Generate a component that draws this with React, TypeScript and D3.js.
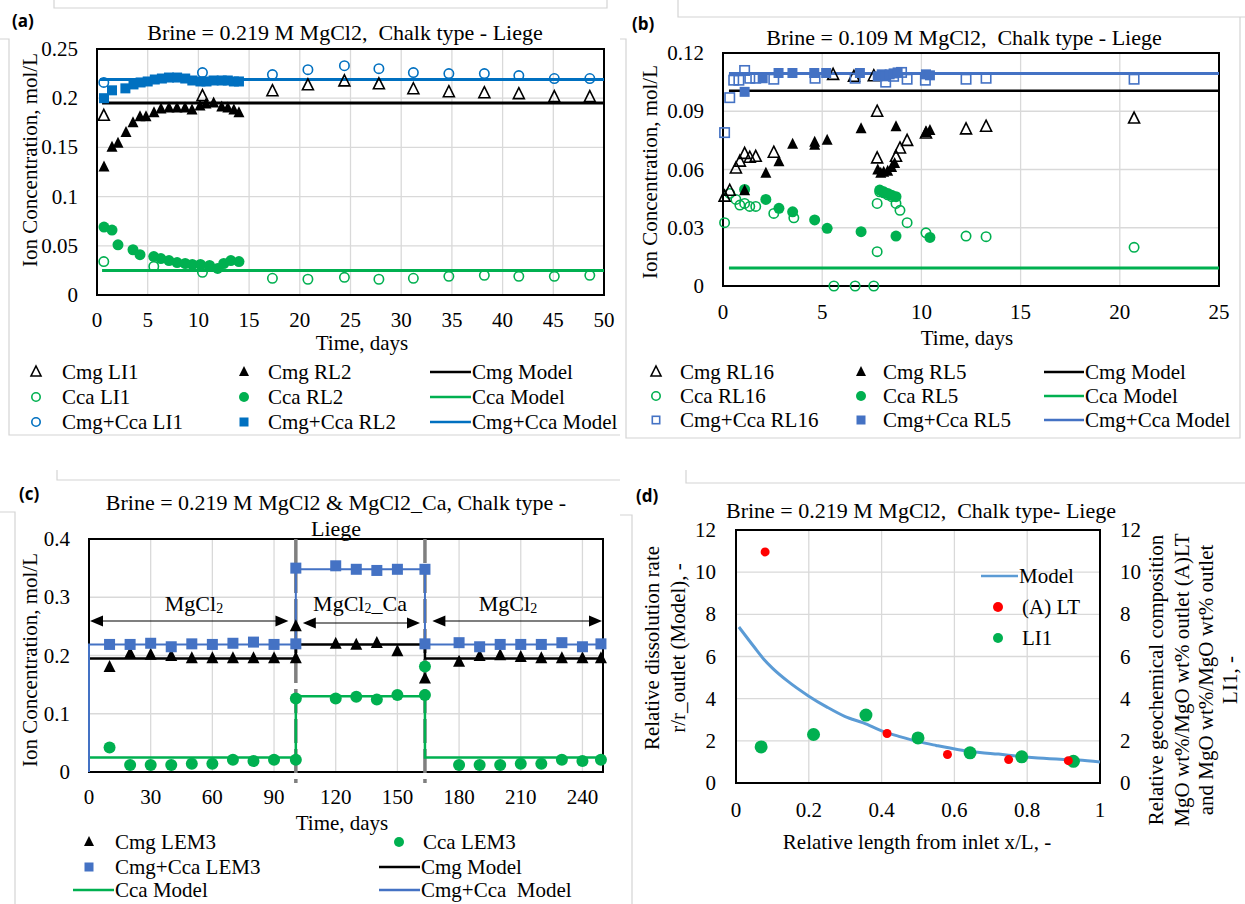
import React from "react";
import * as d3 from "d3";

const FONT = "'Liberation Serif', 'Times New Roman', serif";
const GRID = "#D9D9D9";
const BOXLINE = "#D4D4D4";
const BLUE_A = "#0070C0";
const BLUE = "#4472C4";
const GREEN = "#00B050";
const RED = "#FF0000";
const MODEL_D = "#5B9BD5";

type P = [number, number];

// ---------- panel (a): 0.219 M MgCl2, Liege ----------
const aXTicks = [0, 5, 10, 15, 20, 25, 30, 35, 40, 45, 50];
const aYTicks = [0, 0.05, 0.1, 0.15, 0.2, 0.25];
const aCmgLI1: P[] = [[0.67, 0.182], [10.4, 0.202], [17.3, 0.207], [20.8, 0.213], [24.4, 0.217], [27.8, 0.214], [31.2, 0.209], [34.7, 0.206], [38.2, 0.205], [41.6, 0.204], [45.1, 0.201], [48.6, 0.201]];
const aCcaLI1: P[] = [[0.67, 0.034], [5.6, 0.029], [10.4, 0.023], [17.3, 0.017], [20.8, 0.016], [24.4, 0.018], [27.8, 0.016], [31.2, 0.017], [34.7, 0.019], [38.2, 0.02], [41.6, 0.019], [45.1, 0.019], [48.6, 0.02]];
const aSumLI1: P[] = [[0.67, 0.216], [10.4, 0.226], [17.3, 0.224], [20.8, 0.229], [24.4, 0.233], [27.8, 0.23], [31.2, 0.226], [34.7, 0.225], [38.2, 0.225], [41.6, 0.223], [45.1, 0.22], [48.6, 0.22]];
const aCmgRL2: P[] = [[0.69, 0.13], [1.48, 0.15], [2.07, 0.154], [2.86, 0.165], [3.55, 0.175], [4.24, 0.181], [4.83, 0.181], [5.62, 0.185], [6.31, 0.189], [7.1, 0.19], [7.89, 0.19], [8.68, 0.19], [9.37, 0.188], [10.16, 0.192], [10.75, 0.194], [11.5, 0.195], [12.3, 0.191], [12.9, 0.19], [13.5, 0.188], [14.0, 0.185]];
const aCcaRL2: P[] = [[0.69, 0.069], [1.48, 0.066], [2.07, 0.051], [3.55, 0.046], [4.24, 0.041], [5.6, 0.039], [6.3, 0.037], [7.1, 0.035], [7.9, 0.033], [8.7, 0.032], [9.4, 0.031], [10.2, 0.031], [11.1, 0.03], [11.9, 0.027], [12.5, 0.032], [13.2, 0.035], [14.0, 0.034]];
const aSumRL2: P[] = [[0.69, 0.2], [1.48, 0.208], [2.8, 0.21], [3.6, 0.214], [4.3, 0.216], [5.0, 0.217], [5.7, 0.219], [6.4, 0.22], [7.1, 0.221], [7.9, 0.221], [8.7, 0.22], [9.4, 0.218], [10.2, 0.217], [10.8, 0.217], [11.5, 0.218], [12.3, 0.218], [12.9, 0.218], [13.5, 0.217], [14.0, 0.217]];
const aCmgModel: P[] = [[0.5, 0.195], [50, 0.195]];
const aCcaModel: P[] = [[0.5, 0.025], [50, 0.025]];
const aSumModel: P[] = [[0.3, 0.219], [50, 0.219]];

// ---------- panel (b): 0.109 M MgCl2, Liege ----------
const bXTicks = [0, 5, 10, 15, 20, 25];
const bYTicks = [0, 0.03, 0.06, 0.09, 0.12];
const bCmgRL16: P[] = [[0.08, 0.046], [0.34, 0.049], [0.65, 0.0605], [0.85, 0.064], [1.09, 0.068], [1.35, 0.066], [1.65, 0.0665], [2.56, 0.0686], [5.55, 0.1087], [6.6, 0.1077], [7.6, 0.108], [7.77, 0.0897], [7.77, 0.0657], [8.72, 0.0665], [8.92, 0.0708], [9.28, 0.0747], [10.23, 0.0785], [12.25, 0.0806], [13.26, 0.082], [20.72, 0.0862]];
const bCmgRL5: P[] = [[1.09, 0.049], [2.16, 0.058], [2.82, 0.064], [3.51, 0.073], [4.62, 0.0725], [4.62, 0.074], [5.25, 0.075], [6.96, 0.081], [7.8, 0.0597], [7.95, 0.058], [8.1, 0.0585], [8.3, 0.059], [8.5, 0.061], [8.65, 0.063], [8.72, 0.082], [10.23, 0.079], [10.43, 0.08]];
const bCcaRL16: P[] = [[0.08, 0.0326], [0.34, 0.0477], [0.65, 0.0446], [0.85, 0.0417], [1.09, 0.0425], [1.35, 0.041], [1.65, 0.041], [2.56, 0.0374], [3.57, 0.0351], [5.59, 0], [6.66, 0], [7.6, 0], [7.77, 0.0177], [7.77, 0.0425], [7.9, 0.0485], [8.1, 0.048], [8.3, 0.047], [8.5, 0.046], [8.72, 0.0425], [8.92, 0.039], [9.28, 0.0326], [10.23, 0.0274], [12.25, 0.0257], [13.26, 0.0254], [20.72, 0.0199]];
const bCcaRL5: P[] = [[1.09, 0.0497], [2.16, 0.0446], [2.82, 0.04], [3.51, 0.0382], [4.62, 0.034], [5.25, 0.0297], [6.96, 0.028], [7.9, 0.0494], [8.1, 0.0485], [8.3, 0.0477], [8.5, 0.0468], [8.72, 0.046], [8.72, 0.0257], [10.43, 0.025]];
const bSumRL16: P[] = [[0.08, 0.079], [0.34, 0.097], [0.54, 0.106], [0.8, 0.106], [1.09, 0.111], [1.35, 0.107], [1.65, 0.107], [2.56, 0.1065], [4.64, 0.107], [6.66, 0.107], [8.2, 0.105], [8.6, 0.108], [9.0, 0.11], [9.28, 0.1065], [10.2, 0.106], [12.25, 0.1065], [13.26, 0.107], [20.72, 0.1065]];
const bSumRL5: P[] = [[1.09, 0.1], [2.0, 0.107], [2.8, 0.1097], [3.5, 0.1097], [4.6, 0.1097], [5.2, 0.1097], [6.9, 0.1097], [7.8, 0.108], [8.0, 0.109], [8.2, 0.108], [8.4, 0.109], [8.6, 0.1095], [8.8, 0.11], [10.23, 0.109], [10.43, 0.1085]];
const bCmgModel: P[] = [[0.3, 0.1005], [25, 0.1005]];
const bCcaModel: P[] = [[0.3, 0.0093], [25, 0.0093]];
const bSumModel: P[] = [[0.3, 0.1094], [25, 0.1094]];

// ---------- panel (c): MgCl2 / MgCl2_Ca / MgCl2, LEM3 ----------
const cXTicks = [0, 30, 60, 90, 120, 150, 180, 210, 240];
const cYTicks = [0, 0.1, 0.2, 0.3, 0.4];
const cSwitch = [100.6, 163.4];
const cCmgLEM3: P[] = [[10, 0.18], [20, 0.203], [30, 0.201], [40, 0.199], [50, 0.195], [60, 0.195], [70, 0.195], [80, 0.195], [90, 0.195], [100.6, 0.195], [100.6, 0.25], [120, 0.22], [130, 0.218], [140, 0.221], [150, 0.207], [163.4, 0.16], [180, 0.189], [190, 0.199], [200, 0.2], [210, 0.197], [220, 0.195], [230, 0.195], [240, 0.195], [249, 0.195]];
const cCcaLEM3: P[] = [[10, 0.042], [20, 0.012], [30, 0.012], [40, 0.012], [50, 0.014], [60, 0.014], [70, 0.021], [80, 0.019], [90, 0.021], [100.6, 0.021], [100.6, 0.126], [120, 0.126], [130, 0.129], [140, 0.1245], [150, 0.132], [163.4, 0.132], [163.4, 0.181], [180, 0.012], [190, 0.012], [200, 0.012], [210, 0.014], [220, 0.014], [230, 0.021], [240, 0.019], [249, 0.021]];
const cSumLEM3: P[] = [[10, 0.219], [20, 0.219], [30, 0.221], [40, 0.215], [50, 0.22], [60, 0.219], [70, 0.221], [80, 0.223], [90, 0.219], [100.6, 0.22], [100.6, 0.35], [120, 0.354], [130, 0.348], [140, 0.346], [150, 0.348], [163.4, 0.348], [163.4, 0.22], [180, 0.222], [190, 0.215], [200, 0.219], [210, 0.219], [220, 0.219], [230, 0.222], [240, 0.215], [249, 0.22]];
const cCmgModel: P[] = [[0, 0.195], [100.6, 0.195], [100.6, 0.219], [163.4, 0.219], [163.4, 0.195], [250, 0.195]];
const cCcaModel: P[] = [[0, 0.025], [100.6, 0.025], [100.6, 0.13], [163.4, 0.13], [163.4, 0.025], [250, 0.025]];
const cSumModel: P[] = [[0, 0], [0, 0.219], [100.6, 0.219], [100.6, 0.348], [163.4, 0.348], [163.4, 0.219], [250, 0.219]];

// ---------- panel (d): relative dissolution rate ----------
const dXTicks = [0, 0.2, 0.4, 0.6, 0.8, 1];
const dYTicks = [0, 2, 4, 6, 8, 10, 12];
const dModel: P[] = [[0.008, 7.4], [0.05, 6.45], [0.077, 5.86], [0.1, 5.45], [0.142, 4.83], [0.2, 4.12], [0.25, 3.6], [0.3, 3.15], [0.35, 2.85], [0.404, 2.45], [0.45, 2.2], [0.503, 1.95], [0.55, 1.78], [0.612, 1.58], [0.67, 1.45], [0.721, 1.37], [0.78, 1.26], [0.83, 1.19], [0.9, 1.12], [0.94, 1.09], [1.0, 1.0]];
const dLT: P[] = [[0.08, 10.96], [0.415, 2.35], [0.581, 1.35], [0.749, 1.11], [0.913, 1.06]];
const dLI1: P[] = [[0.069, 1.71], [0.213, 2.3], [0.357, 3.22], [0.5, 2.14], [0.643, 1.43], [0.785, 1.24], [0.927, 1.03]];

type Kind = "triO" | "triF" | "cirO" | "cirF" | "sqO" | "sqF";

function Marker({ kind, x, y, color, s = 10 }: { kind: Kind; x: number; y: number; color: string; s?: number }) {
  if (kind === "triO" || kind === "triF") {
    const d = `M${x},${y - s * 0.6}L${x + s / 2},${y + s * 0.4}L${x - s / 2},${y + s * 0.4}Z`;
    return kind === "triF"
      ? <path d={d} fill={color} />
      : <path d={d} fill="none" stroke={color} strokeWidth={1.6} />;
  }
  if (kind === "cirO" || kind === "cirF") {
    return kind === "cirF"
      ? <circle cx={x} cy={y} r={s / 2} fill={color} />
      : <circle cx={x} cy={y} r={s / 2 - 0.8} fill="none" stroke={color} strokeWidth={1.6} />;
  }
  return kind === "sqF"
    ? <rect x={x - s / 2} y={y - s / 2} width={s} height={s} fill={color} />
    : <rect x={x - s / 2 + 0.8} y={y - s / 2 + 0.8} width={s - 1.6} height={s - 1.6} fill="none" stroke={color} strokeWidth={1.6} />;
}

function Series({ data, xs, ys, kind, color, s }: { data: P[]; xs: any; ys: any; kind: Kind; color: string; s?: number }) {
  return (
    <g>
      {data.map((p, i) => <Marker key={i} kind={kind} x={xs(p[0])} y={ys(p[1])} color={color} s={s} />)}
    </g>
  );
}

function Line({ data, xs, ys, color, w = 2.5 }: { data: P[]; xs: any; ys: any; color: string; w?: number }) {
  const gen = d3.line<P>().x(d => xs(d[0])).y(d => ys(d[1]));
  return <path d={gen(data) || ""} fill="none" stroke={color} strokeWidth={w} />;
}

function Frame({ xs, ys, xTicks, yTicks, xLabY, yLabRight, right }: any) {
  const [l, r] = xs.range();
  const [b, t] = ys.range();
  return (
    <g>
      {xTicks.filter((v: number) => xs(v) > l + 1 && xs(v) < r - 1).map((v: number) => (
        <line key={"gx" + v} x1={xs(v)} x2={xs(v)} y1={t} y2={b} stroke={GRID} strokeWidth={1.3} />
      ))}
      {yTicks.filter((v: number) => ys(v) > t + 1 && ys(v) < b - 1).map((v: number) => (
        <line key={"gy" + v} x1={l} x2={r} y1={ys(v)} y2={ys(v)} stroke={GRID} strokeWidth={1.3} />
      ))}
      <rect x={l} y={t} width={r - l} height={b - t} fill="none" stroke="#000" strokeWidth={2} />
      {xTicks.map((v: number) => (
        <text key={"tx" + v} x={xs(v)} y={xLabY} textAnchor="middle" dominantBaseline="central">{String(v)}</text>
      ))}
      {yTicks.map((v: number) => (
        <text key={"ty" + v} x={yLabRight} y={ys(v)} textAnchor="end" dominantBaseline="central">{String(v)}</text>
      ))}
      {right != null && yTicks.map((v: number) => (
        <text key={"tr" + v} x={right} y={ys(v)} textAnchor="start" dominantBaseline="central">{String(v)}</text>
      ))}
    </g>
  );
}

function LegMark({ x, y, kind, color }: { x: number; y: number; kind: Kind; color: string }) {
  return <Marker kind={kind} x={x} y={y} color={color} s={kind.startsWith("sq") ? 9 : 10} />;
}

function LegLine({ x1, x2, y, color, label }: { x1: number; x2: number; y: number; color: string; label: string }) {
  return (
    <g>
      <line x1={x1} x2={x2} y1={y} y2={y} stroke={color} strokeWidth={2.5} />
      <text x={x2 + 1} y={y} dominantBaseline="central" style={{ whiteSpace: "pre" }}>{label}</text>
    </g>
  );
}

function LegItem({ mx, tx, y, kind, color, label }: { mx: number; tx: number; y: number; kind: Kind; color: string; label: string }) {
  return (
    <g>
      <LegMark x={mx} y={y} kind={kind} color={color} />
      <text x={tx} y={y} dominantBaseline="central">{label}</text>
    </g>
  );
}

function YTitle({ x, y, text }: { x: number; y: number; text: string }) {
  return (
    <text transform={`translate(${x},${y}) rotate(-90)`} textAnchor="middle" dominantBaseline="central">{text}</text>
  );
}

function Title({ x, y, text }: { x: number; y: number; text: string }) {
  return (
    <text x={x} y={y} textAnchor="middle" dominantBaseline="central" fontSize={22} style={{ whiteSpace: "pre" }}>{text}</text>
  );
}

function Arrow({ x1, x2, y }: { x1: number; x2: number; y: number }) {
  return (
    <g>
      <line x1={x1 + 4} x2={x2 - 4} y1={y} y2={y} stroke="#000" strokeWidth={1.2} />
      <path d={`M${x1},${y}L${x1 + 13},${y - 5.5}L${x1 + 13},${y + 5.5}Z`} fill="#000" />
      <path d={`M${x2},${y}L${x2 - 13},${y - 5.5}L${x2 - 13},${y + 5.5}Z`} fill="#000" />
    </g>
  );
}

function MgLabel({ x, y, suffix }: { x: number; y: number; suffix?: string }) {
  return (
    <text x={x} y={y} textAnchor="middle" dominantBaseline="central" fontSize={22}>
      MgCl<tspan fontSize={14} dy={5}>2</tspan>
      {suffix ? <tspan dy={-5}>{suffix}</tspan> : null}
    </text>
  );
}

export default function App() {
  // panel scales
  const axs = d3.scaleLinear().domain([0, 50]).range([97, 604]);
  const ays = d3.scaleLinear().domain([0, 0.25]).range([295, 49]);
  const bxs = d3.scaleLinear().domain([0, 25]).range([723, 1219]);
  const bys = d3.scaleLinear().domain([0, 0.12]).range([286, 53]);
  const cxs = d3.scaleLinear().domain([0, 250]).range([89, 603]);
  const cys = d3.scaleLinear().domain([0, 0.4]).range([772, 539]);
  const dxs = d3.scaleLinear().domain([0, 1]).range([736, 1100]);
  const dys = d3.scaleLinear().domain([0, 12]).range([783, 530]);

  const dModelGen = d3.line<P>().x(d => dxs(d[0])).y(d => dys(d[1])).curve(d3.curveMonotoneX);

  return (
    <div style={{ position: "absolute", left: 0, top: 0 }}>
      <svg width={1245} height={904} style={{ display: "block", background: "#fff" }} fontFamily={FONT} fontSize={21} fill="#000">
        <rect width={1245} height={904} fill="#fff" />

        {/* pasted-figure frame lines */}
        <g fill="none" stroke={BOXLINE} strokeWidth={1.2}>
          <path d="M54,0V8H607V0" />
          <path d="M0,39H9V435H620" />
          <path d="M678,0V17H1245" />
          <path d="M620,39H626V438H1240V17" />
          <path d="M57,470V480H620" />
          <path d="M0,512H15V904" />
          <path d="M686,470V483H1245" />
          <path d="M620,515H632V904" />
        </g>

        {/* panel labels */}
        <g fontFamily="'Open Sans', 'Liberation Sans', sans-serif" fontWeight="bold" fontSize={17}>
          <text x={12} y={20} dominantBaseline="central">(a)</text>
          <text x={632} y={23} dominantBaseline="central">(b)</text>
          <text x={19} y={493} dominantBaseline="central">(c)</text>
          <text x={636} y={495} dominantBaseline="central">(d)</text>
        </g>

        {/* ===== (a) ===== */}
        <Title x={345} y={32} text="Brine = 0.219 M MgCl2,  Chalk type - Liege" />
        <Frame xs={axs} ys={ays} xTicks={aXTicks} yTicks={aYTicks} xLabY={320} yLabRight={78} />
        <YTitle x={30} y={160} text="Ion Concentration, mol/L" />
        <text x={362} y={343} textAnchor="middle" dominantBaseline="central">Time, days</text>
        <Line data={aSumModel} xs={axs} ys={ays} color={BLUE_A} w={3} />
        <Line data={aCmgModel} xs={axs} ys={ays} color="#000" w={3} />
        <Line data={aCcaModel} xs={axs} ys={ays} color={GREEN} w={3} />
        <Series data={aCcaLI1} xs={axs} ys={ays} kind="cirO" color={GREEN} s={11} />
        <Series data={aSumLI1} xs={axs} ys={ays} kind="cirO" color={BLUE_A} s={11} />
        <Series data={aCmgLI1} xs={axs} ys={ays} kind="triO" color="#000" s={11} />
        <Series data={aCcaRL2} xs={axs} ys={ays} kind="cirF" color={GREEN} s={11} />
        <Series data={aSumRL2} xs={axs} ys={ays} kind="sqF" color={BLUE_A} s={10} />
        <Series data={aCmgRL2} xs={axs} ys={ays} kind="triF" color="#000" s={11} />
        <LegItem mx={36} tx={62} y={372} kind="triO" color="#000" label="Cmg LI1" />
        <LegItem mx={36} tx={62} y={397} kind="cirO" color={GREEN} label="Cca LI1" />
        <LegItem mx={36} tx={62} y={422} kind="cirO" color={BLUE_A} label="Cmg+Cca LI1" />
        <LegItem mx={244} tx={268} y={372} kind="triF" color="#000" label="Cmg RL2" />
        <LegItem mx={244} tx={268} y={397} kind="cirF" color={GREEN} label="Cca RL2" />
        <LegItem mx={244} tx={268} y={422} kind="sqF" color={BLUE_A} label="Cmg+Cca RL2" />
        <LegLine x1={430} x2={471} y={372} color="#000" label="Cmg Model" />
        <LegLine x1={430} x2={471} y={397} color={GREEN} label="Cca Model" />
        <LegLine x1={430} x2={471} y={422} color={BLUE_A} label="Cmg+Cca Model" />

        {/* ===== (b) ===== */}
        <Title x={964} y={37} text="Brine = 0.109 M MgCl2,  Chalk type - Liege" />
        <Frame xs={bxs} ys={bys} xTicks={bXTicks} yTicks={bYTicks} xLabY={312} yLabRight={704} />
        <YTitle x={650} y={172} text="Ion Concentration, mol/L" />
        <text x={967} y={338} textAnchor="middle" dominantBaseline="central">Time, days</text>
        <Line data={bSumModel} xs={bxs} ys={bys} color={BLUE} w={3} />
        <Line data={bCmgModel} xs={bxs} ys={bys} color="#000" w={2.5} />
        <Line data={bCcaModel} xs={bxs} ys={bys} color={GREEN} w={3} />
        <Series data={bCcaRL16} xs={bxs} ys={bys} kind="cirO" color={GREEN} s={11} />
        <Series data={bCcaRL5} xs={bxs} ys={bys} kind="cirF" color={GREEN} s={11} />
        <Series data={bCmgRL16} xs={bxs} ys={bys} kind="triO" color="#000" s={11} />
        <Series data={bCmgRL5} xs={bxs} ys={bys} kind="triF" color="#000" s={11} />
        <Series data={bSumRL16} xs={bxs} ys={bys} kind="sqO" color={BLUE} s={11} />
        <Series data={bSumRL5} xs={bxs} ys={bys} kind="sqF" color={BLUE} s={10} />
        <LegItem mx={656} tx={680} y={372} kind="triO" color="#000" label="Cmg RL16" />
        <LegItem mx={656} tx={680} y={396} kind="cirO" color={GREEN} label="Cca RL16" />
        <LegItem mx={656} tx={680} y={420} kind="sqO" color={BLUE} label="Cmg+Cca RL16" />
        <LegItem mx={861} tx={883} y={372} kind="triF" color="#000" label="Cmg RL5" />
        <LegItem mx={861} tx={883} y={396} kind="cirF" color={GREEN} label="Cca RL5" />
        <LegItem mx={861} tx={883} y={420} kind="sqF" color={BLUE} label="Cmg+Cca RL5" />
        <LegLine x1={1044} x2={1084} y={372} color="#000" label="Cmg Model" />
        <LegLine x1={1044} x2={1084} y={396} color={GREEN} label="Cca Model" />
        <LegLine x1={1044} x2={1084} y={420} color={BLUE} label="Cmg+Cca Model" />

        {/* ===== (c) ===== */}
        <Title x={336} y={502} text="Brine = 0.219 M MgCl2 & MgCl2_Ca, Chalk type -" />
        <Title x={336} y={528} text="Liege" />
        <Frame xs={cxs} ys={cys} xTicks={cXTicks} yTicks={cYTicks} xLabY={797} yLabRight={70} />
        <YTitle x={30} y={660} text="Ion Concentration, mol/L" />
        <text x={342} y={823} textAnchor="middle" dominantBaseline="central">Time, days</text>
        {cSwitch.map(v => (
          <line key={v} x1={cxs(v)} x2={cxs(v)} y1={cys(0.4)} y2={783} stroke="#7F7F7F" strokeWidth={3.5} strokeDasharray="24 6" />
        ))}
        <MgLabel x={194} y={603} />
        <Arrow x1={cxs(0) + 1} x2={cxs(97)} y={621} />
        <MgLabel x={360} y={603} suffix="_Ca" />
        <Arrow x1={cxs(104)} x2={cxs(161)} y={623} />
        <MgLabel x={508} y={603} />
        <Arrow x1={cxs(167)} x2={cxs(250) - 1} y={621} />
        <Line data={cCcaModel} xs={cxs} ys={cys} color={GREEN} w={2.5} />
        <Line data={cCmgModel} xs={cxs} ys={cys} color="#000" w={2.5} />
        <Line data={cSumModel} xs={cxs} ys={cys} color={BLUE} w={2} />
        <Series data={cCmgLEM3} xs={cxs} ys={cys} kind="triF" color="#000" s={12} />
        <Series data={cSumLEM3} xs={cxs} ys={cys} kind="sqF" color={BLUE} s={11} />
        <Series data={cCcaLEM3} xs={cxs} ys={cys} kind="cirF" color={GREEN} s={12} />
        <LegItem mx={89} tx={115} y={842} kind="triF" color="#000" label="Cmg LEM3" />
        <LegItem mx={399} tx={423} y={842} kind="cirF" color={GREEN} label="Cca LEM3" />
        <LegItem mx={89} tx={115} y={867} kind="sqF" color={BLUE} label="Cmg+Cca LEM3" />
        <LegLine x1={379} x2={420} y={867} color="#000" label="Cmg Model" />
        <LegLine x1={73} x2={114} y={890} color={GREEN} label="Cca Model" />
        <LegLine x1={379} x2={420} y={890} color={BLUE} label="Cmg+Cca  Model" />

        {/* ===== (d) ===== */}
        <Title x={921} y={510} text="Brine = 0.219 M MgCl2,  Chalk type- Liege" />
        <Frame xs={dxs} ys={dys} xTicks={dXTicks} yTicks={dYTicks} xLabY={810} yLabRight={716} right={1120} />
        <YTitle x={652} y={648} text="Relative dissolution rate" />
        <YTitle x={678} y={648} text="r/r_outlet (Model), -" />
        <YTitle x={1156} y={680} text="Relative geochemical composition" />
        <YTitle x={1182} y={680} text="MgO wt%/MgO wt% outlet (A)LT" />
        <YTitle x={1206} y={680} text="and MgO wt%/MgO wt% outlet" />
        <YTitle x={1230} y={680} text="LI1, -" />
        <text x={917} y={842} textAnchor="middle" dominantBaseline="central">Relative length from inlet x/L, -</text>
        <path d={dModelGen(dModel) || ""} fill="none" stroke={MODEL_D} strokeWidth={3} />
        <Series data={dLI1} xs={dxs} ys={dys} kind="cirF" color={GREEN} s={13} />
        <Series data={dLT} xs={dxs} ys={dys} kind="cirF" color={RED} s={9} />
        <LegLine x1={981} x2={1018} y={576} color={MODEL_D} label="Model" />
        <LegItem mx={998} tx={1022} y={607} kind="cirF" color={RED} label="(A) LT" />
        <LegItem mx={998} tx={1022} y={638} kind="cirF" color={GREEN} label="LI1" />
      </svg>
    </div>
  );
}
